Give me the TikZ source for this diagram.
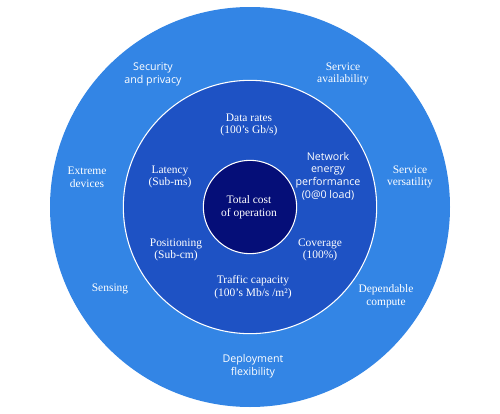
\documentclass[tikz,border=0pt]{standalone}
\usepackage{fontspec}
\usepackage{xcolor}
\setmainfont{Liberation Serif}
\newfontfamily\hildafont{Open Sans}

\definecolor{ringout}{HTML}{3385E5}
\definecolor{ringmid}{HTML}{1E52C4}
\definecolor{ringin}{HTML}{050E78}

\begin{document}
\begin{tikzpicture}[x=0.75pt,y=0.75pt,yscale=-1,xscale=1,
    lbl/.style={align=center, text=white, font=\fontsize{8.6}{9.6}\selectfont},
    slbl/.style={align=center, text=white, font=\hildafont\fontsize{8}{9.6}\selectfont}]

    \useasboundingbox (0,0) rectangle (500,414);

    \draw (250,207) node [circle, minimum size=300pt, inner sep=0pt, fill=ringout] (outer) {};
    \draw (250,207) node [circle, minimum size=190pt, inner sep=0pt, fill=ringmid, draw=white, line width=0.8pt] (mid) {};
    \draw (250,207) node [circle, minimum size=70pt, inner sep=0pt, fill=ringin, draw=white, line width=0.8pt] (core) {};

    \draw (249,207) node [lbl] (tco) {Total cost\\of operation};

    \draw (249,125) node [lbl] (rates) {Data rates\\(100's Gb/s)};
    \draw (170,177) node [lbl] (latency) {Latency\\(Sub-ms)};
    \draw (328,176) node [slbl] (energy) {Network\\energy\\performance\\(0@0 load)};
    \draw (176,250) node [lbl] (position) {Positioning\\(Sub-cm)};
    \draw (320,250) node [lbl] (coverage) {Coverage\\(100\%)};
    \draw (253,287) node [lbl] (traffic) {Traffic capacity\\(100's Mb/s /m²)};

    \draw (153,74) node [slbl] (security) {Security\\and privacy};
    \draw (343,74) node [lbl] (avail) {Service\\availability};
    \draw (87,177) node [lbl] (extreme) {Extreme\\devices};
    \draw (410,177) node [lbl] (versat) {Service\\versatility};
    \draw (110,289) node [lbl] (sensing) {Sensing};
    \draw (386,296) node [lbl] (compute) {Dependable\\compute};
    \draw (253,366) node [slbl] (deploy) {Deployment\\flexibility};

\end{tikzpicture}
\end{document}
